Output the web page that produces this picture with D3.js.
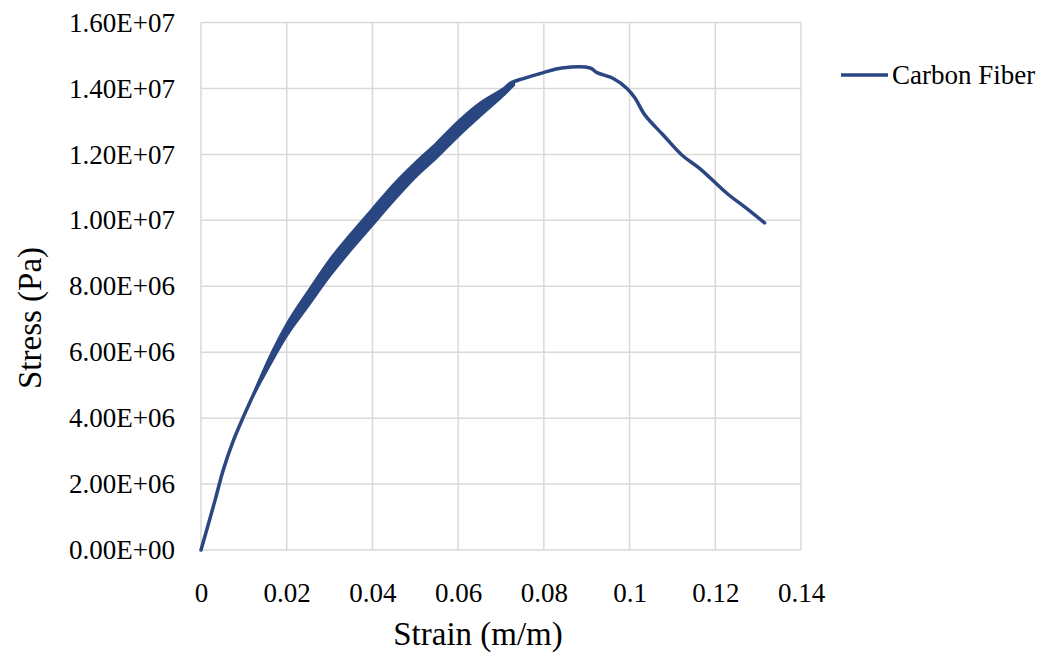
<!DOCTYPE html>
<html lang="en">
<head>
<meta charset="UTF-8">
<title>Stress vs Strain</title>
<style>
  body { margin: 0; background: #fff; }
  svg, svg text { font-family: "Liberation Serif", "Times New Roman", serif; }
  .grid line { stroke: #d9d9d9; stroke-width: 1.5px; }
  .tick text { fill: #000; font-size: 27px; font-family: "Liberation Serif", "Times New Roman", serif; }
</style>
</head>
<body>
<svg id="chart" width="1059" height="655"></svg>
<script src="https://d3js.org/d3.v7.min.js"></script>
<script>
// data
var seriesName = "Carbon Fiber";
var strain = [0, 0.0033, 0.0052, 0.0075, 0.0099, 0.0122, 0.0142, 0.0177, 0.0208, 0.0262, 0.0309,
  0.0363, 0.0398, 0.0441, 0.0503, 0.0558, 0.06, 0.065, 0.0698, 0.0721, 0.0752, 0.0799, 0.0842,
  0.0908, 0.0924, 0.0962, 0.0994, 0.1013, 0.1036, 0.1079, 0.1122, 0.1164, 0.1227, 0.1273, 0.1315];
var stress = [0, 1.52e6, 2.43e6, 3.3e6, 4.04e6, 4.7e6, 5.25e6, 6.06e6, 6.77e6, 7.78e6, 8.6e6,
  9.5e6, 1.01e7, 1.08e7, 1.157e7, 1.213e7, 1.283e7, 1.335e7, 1.385e7, 1.415e7, 1.43e7, 1.448e7, 1.462e7,
  1.462e7, 1.448e7, 1.43e7, 1.40e7, 1.37e7, 1.319e7, 1.258e7, 1.198e7, 1.157e7, 1.082e7, 1.036e7, 9.92e6];
// scatter of the noisy measurements (lower / upper edge of the thick part)
var bandStrain = [0.0122, 0.0142, 0.02, 0.025, 0.03, 0.035, 0.04, 0.045, 0.05, 0.055, 0.06, 0.065, 0.07, 0.073];
var bandLow = [4.7e6, 5.17e6, 6.5e6, 7.4e6, 8.3e6, 9.1e6, 9.85e6, 1.06e7, 1.13e7, 1.19e7, 1.255e7, 1.315e7, 1.372e7, 1.41e7];
var bandHigh = [4.7e6, 5.33e6, 6.85e6, 7.85e6, 8.8e6, 9.6e6, 1.035e7, 1.11e7, 1.175e7, 1.235e7, 1.3e7, 1.355e7, 1.395e7, 1.42e7];
var xTicks = [0, 0.02, 0.04, 0.06, 0.08, 0.1, 0.12, 0.14];
var yTicks = [0, 2e6, 4e6, 6e6, 8e6, 1e7, 1.2e7, 1.4e7, 1.6e7];

var color = "#2a4782";

var svg = d3.select("#chart"),
    margin = { top: 22.5, left: 201, right: 258, bottom: 105 },
    width = 1059 - margin.left - margin.right,
    height = 655 - margin.top - margin.bottom,
    g = svg.append("g").attr("transform", "translate(" + margin.left + "," + margin.top + ")");

var x = d3.scaleLinear().domain([0, 0.14]).range([0, width]),
    y = d3.scaleLinear().domain([0, 1.6e7]).range([height, 0]);

// gridlines
g.append("g").attr("class", "grid")
  .selectAll("line").data(yTicks).enter().append("line")
  .attr("x1", 0).attr("x2", width)
  .attr("y1", function(d) { return y(d); }).attr("y2", function(d) { return y(d); });
g.append("g").attr("class", "grid")
  .selectAll("line").data(xTicks).enter().append("line")
  .attr("y1", 0).attr("y2", height)
  .attr("x1", function(d) { return x(d); }).attr("x2", function(d) { return x(d); });

// axes (text only)
var xAxis = g.append("g")
  .attr("transform", "translate(0," + height + ")")
  .call(d3.axisBottom(x).tickValues(xTicks).tickSize(0).tickPadding(33)
    .tickFormat(function(d) { return d === 0 ? "0" : d3.format("")(+d.toFixed(2)); }));
xAxis.select(".domain").remove();
xAxis.attr("font-family", null).attr("font-size", null);

var yAxis = g.append("g")
  .call(d3.axisLeft(y).tickValues(yTicks).tickSize(0).tickPadding(26)
    .tickFormat(function(d) {
      var e = d === 0 ? 0 : Math.floor(Math.log10(d));
      var m = d === 0 ? 0 : d / Math.pow(10, e);
      return m.toFixed(2) + "E+" + (e < 10 ? "0" : "") + e;
    }));
yAxis.select(".domain").remove();
yAxis.attr("font-family", null).attr("font-size", null);

// noisy band
var band = bandStrain.map(function(s, i) { return { s: s, lo: bandLow[i], hi: bandHigh[i] }; });
g.append("path")
  .datum(band)
  .attr("fill", color)
  .attr("stroke", color)
  .attr("stroke-width", 2.5)
  .attr("d", d3.area().curve(d3.curveMonotoneX)
    .x(function(d) { return x(d.s); })
    .y0(function(d) { return y(d.lo); })
    .y1(function(d) { return y(d.hi); }));

// main curve
var pts = strain.map(function(s, i) { return { s: s, v: stress[i] }; });
g.append("path")
  .datum(pts)
  .attr("fill", "none")
  .attr("stroke", color)
  .attr("stroke-width", 3.5)
  .attr("stroke-linejoin", "round")
  .attr("stroke-linecap", "round")
  .attr("d", d3.line().curve(d3.curveCatmullRom)
    .x(function(d) { return x(d.s); })
    .y(function(d) { return y(d.v); }));

// axis titles
svg.append("text")
  .attr("x", 478).attr("y", 645)
  .attr("text-anchor", "middle")
  .style("font-size", "33px")
  .text("Strain (m/m)");

svg.append("text")
  .attr("transform", "translate(41,318) rotate(-90)")
  .attr("text-anchor", "middle")
  .style("font-size", "33px")
  .text("Stress (Pa)");

// legend
var leg = svg.append("g").attr("transform", "translate(841,75)");
leg.append("line").attr("x1", 0).attr("x2", 47).attr("y1", 0).attr("y2", 0)
  .attr("stroke", color).attr("stroke-width", 3.5);
leg.append("text").attr("x", 51).attr("y", 9)
  .style("font-size", "27px")
  .text(seriesName);
</script>
</body>
</html>
